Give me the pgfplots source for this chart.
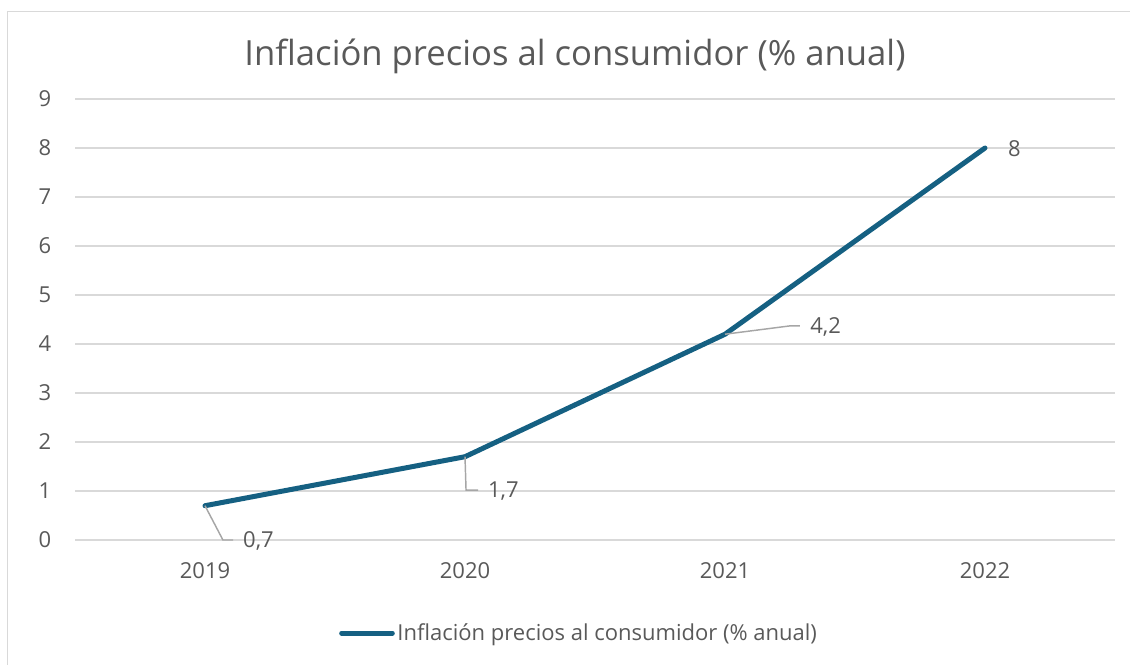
\documentclass[border=0pt]{standalone}
\usepackage{pgfplots}
\pgfplotsset{compat=1.18}
\usepackage{fontspec}
\setmainfont{Open Sans}
\definecolor{line1}{HTML}{156082}
\definecolor{txt}{HTML}{595959}
\definecolor{grid1}{HTML}{D9D9D9}
\definecolor{lead}{HTML}{A6A6A6}
\begin{document}
\begin{tikzpicture}
\path[use as bounding box] (0,0) rectangle (847.5pt,-498pt);
\draw[grid1, line width=1.1pt] (5.6pt,-500pt) -- (5.6pt,-8.6pt) -- (850pt,-8.6pt);
\node[txt, font=\fontsize{26pt}{30pt}\selectfont] at (431.25pt,-42.5pt) {Inflación precios al consumidor (\% anual)};
\begin{axis}[
  at={(56.25pt,-405pt)}, anchor=south west,
  scale only axis, width=780pt, height=330.75pt,
  xmin=-0.5, xmax=3.5, ymin=0, ymax=9,
  xtick={0,1,2,3}, xticklabels={2019,2020,2021,2022},
  ytick={0,1,...,9},
  /pgf/number format/assume math mode=true,
  axis line style={draw=none},
  major tick length=0pt,
  ymajorgrids, grid style={grid1, line width=1.1pt},
  xticklabel style={anchor=center, yshift=-23.25pt, text=txt, font=\fontsize{16.5pt}{19pt}\selectfont},
  yticklabel style={anchor=center, xshift=-22.5pt, text=txt, font=\fontsize{16.5pt}{19pt}\selectfont},
  legend style={draw=none, fill=none, at={(axis description cs:0.485,-0.211)}, anchor=center,
    font=\fontsize{16.5pt}{19pt}\selectfont, text=txt, inner sep=0pt,
    /tikz/every even column/.append style={column sep=2pt}},
  legend cell align=left,
  legend image code/.code={\draw[#1, line cap=round] (0pt,0pt) -- (38pt,0pt);},
  clip=false,
]
\addplot[line1, line width=3.75pt, line cap=round, line join=round, mark=none]
  coordinates {(0,0.7) (1,1.7) (2,4.2) (3,8)};
\addlegendentry{Inflación precios al consumidor (\% anual)}
\draw[lead, line width=1.1pt] (axis cs:0,0.7) -- (axis cs:0.069,0) -- (axis cs:0.108,0);
\draw[lead, line width=1.1pt] (axis cs:1,1.7) -- (axis cs:1.004,1.02) -- (axis cs:1.05,1.02);
\draw[lead, line width=1.1pt] (axis cs:2,4.2) -- (axis cs:2.25,4.37) -- (axis cs:2.288,4.37);
\begin{scope}[every node/.style={anchor=west, inner sep=0pt, text=txt, font=\fontsize{16.5pt}{19pt}\selectfont}]
\node at (axis cs:0.146,-0.02) {0,7};
\node at (axis cs:1.088,1.0) {1,7};
\node at (axis cs:2.327,4.35) {4,2};
\node at (axis cs:3.088,7.98) {8};
\end{scope}
\end{axis}
\end{tikzpicture}
\end{document}
